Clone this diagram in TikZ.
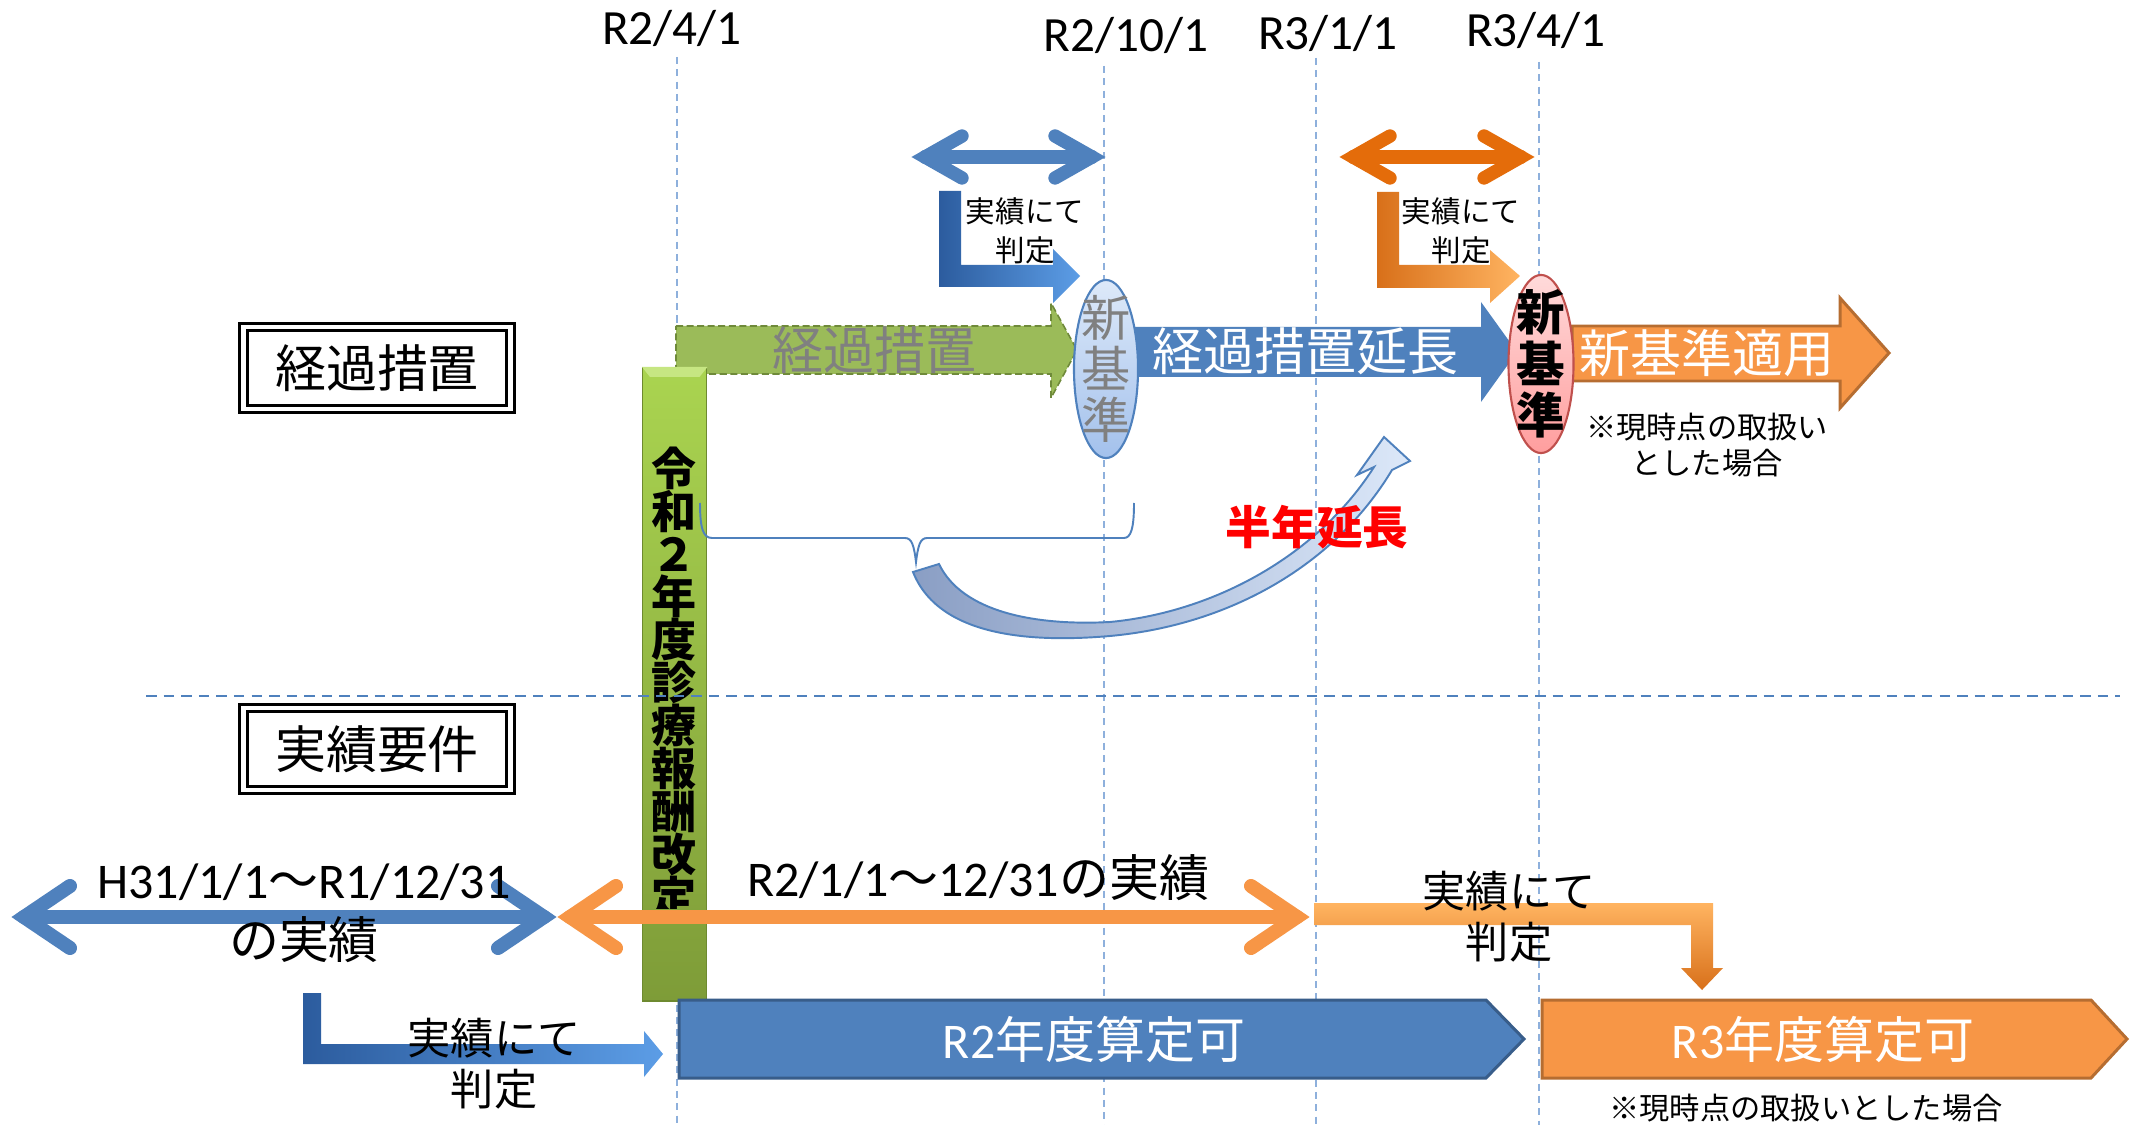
\documentclass[tikz,border=0pt]{standalone}
\usepackage{fontspec}
\newfontfamily\jp{Noto Sans CJK JP}
\newfontfamily\lat{Carlito}
\usetikzlibrary{shapes.geometric,calc}
\definecolor{cblue}{HTML}{4F81BD}
\definecolor{cbluedk}{HTML}{385D8A}
\definecolor{corange}{HTML}{F79646}
\definecolor{corangedk}{HTML}{B66D31}
\definecolor{cdorange}{HTML}{E46C0A}
\definecolor{cgreen}{HTML}{9BBB59}
\definecolor{cgreendk}{HTML}{6F8A3A}
\definecolor{cgray}{HTML}{808080}
\definecolor{cvline}{HTML}{8EB0DC}
\definecolor{cred}{HTML}{FF0000}
\definecolor{cbartop}{HTML}{AAD450}
\definecolor{cbarbot}{HTML}{7E9C38}
\definecolor{cbarbd}{HTML}{6E8A30}
\definecolor{cbarhi}{HTML}{C6E682}
\definecolor{cellbt}{HTML}{DDE9F9}
\definecolor{cellbb}{HTML}{A3C1EC}
\definecolor{cellrt}{HTML}{FFDADA}
\definecolor{cellrb}{HTML}{FF9E9E}
\definecolor{cellrd}{HTML}{C0504D}
\definecolor{cbentbl}{HTML}{2C5C9E}
\definecolor{cbentbr}{HTML}{5C9DE6}
\definecolor{cbentol}{HTML}{D8701A}
\definecolor{cbentor}{HTML}{FFB461}
\definecolor{ccurvl}{HTML}{8A9EC4}
\definecolor{ccurvr}{HTML}{DCE8F9}
\tikzset{
  vline/.style={draw=cvline, line width=0.45pt, dash pattern=on 2pt off 1.5pt},
  hline/.style={draw=cblue, line width=0.6pt, dash pattern=on 3pt off 2pt},
  datelbl/.style={anchor=base, inner sep=0pt, font={\lat\fontsize{14}{16}\selectfont}},
  secbox/.style={draw=black, line width=0.75pt, double=white, double distance=1.4pt,
     minimum width=2.67cm, minimum height=0.82cm, inner sep=0pt,
     font={\jp\fontsize{14.5}{16}\selectfont}},
  bandtxt/.style={inner sep=0pt, font={\jp\fontsize{14.5}{16}\selectfont}},
  bigtxt/.style={inner sep=0pt, align=center, font={\jp\fontsize{14.2}{17}\selectfont}},
  midtxt/.style={inner sep=0pt, align=center, font={\jp\fontsize{12.3}{14.5}\selectfont}},
  smalltxt/.style={inner sep=0pt, align=center, font={\jp\fontsize{8.4}{11}\selectfont}},
  notetxt/.style={inner sep=0pt, align=center, font={\jp\fontsize{8.6}{10.2}\selectfont}},
  stacktxt/.style={inner sep=0pt, align=center, font={\jp\fontsize{14}{14.4}\selectfont\lineskiplimit=-5pt}},
  dblarrow/.style={line width=3.8pt, line cap=round, line join=miter},
  dblarrowb/.style={line width=4pt, line cap=round, line join=miter},
  ellnode/.style={ellipse, minimum width=0.64cm, minimum height=1.78cm, inner sep=0pt, line width=0.6pt},
}
\begin{document}
\begin{tikzpicture}[x=0.01cm,y=-0.01cm]
\useasboundingbox[fill=white] (0,0) rectangle (2140,1125);
% vertical guides
\foreach \n/\x/\y in {a/677/57,b/1104/66,c/1316/58,d/1539/62}{
  \coordinate (vt\n) at (\x,\y); \coordinate (vb\n) at (\x,1125);
  \draw[vline] (vt\n) -- (vb\n);}
% dates
\node[datelbl] (dA) at (672,45) {R2/4/1};
\node[datelbl] (dB) at (1126,52) {R2/10/1};
\node[datelbl] (dC) at (1328,50) {R3/1/1};
\node[datelbl] (dD) at (1536,47) {R3/4/1};
% section labels
\node[secbox] (secA) at (377,368) {経過措置};
\node[secbox] (secB) at (377,749) {実績要件};
% green dashed arrow
\draw[fill=cgreen, draw=cgreendk, line width=0.45pt, dash pattern=on 2pt off 1pt]
  (676,326) -- (1051,326) -- (1051,303) -- (1077,350) -- (1051,398) -- (1051,374) -- (676,374) -- cycle;
\node[bandtxt, text=cgray] (tKeika) at (874,350) {経過措置};
% blue arrow
\fill[cblue] (1134,327) -- (1481,327) -- (1481,302) -- (1517,352) -- (1481,402) -- (1481,377) -- (1134,377) -- cycle;
\node[bandtxt, text=white] (tEnchou) at (1305,351) {経過措置延長};
% orange arrow
\draw[fill=corange, draw=corangedk, line width=0.85pt, line join=miter]
  (1572,326) -- (1840,326) -- (1840,298) -- (1889,353) -- (1840,408) -- (1840,381) -- (1572,381) -- cycle;
\node[bandtxt, text=white] (tTekiyou) at (1707,353) {新基準適用};
% ellipses
\node[ellnode, draw=cblue, top color=cellbt, bottom color=cellbb] (ellA) at (1106,369) {};
\node[stacktxt, text=cgray] (ellAt) at (ellA.center) {新\\基\\準};
\node[ellnode, minimum width=0.65cm, draw=cellrd, top color=cellrt, bottom color=cellrb] (ellB) at (1541,364) {};
\node[stacktxt, font={\jp\bfseries\fontsize{13.8}{14.6}\selectfont\lineskiplimit=-5pt}] (ellBt) at (ellB.center) {新\\基\\準};
\node[notetxt] (note1) at (1707,445) {※現時点の取扱い\\とした場合};
% top double arrows
\coordinate (tbL) at (925,157); \coordinate (tbR) at (1092,157);
\draw[dblarrow, cblue] (tbL) -- (tbR);
\draw[dblarrow, cblue] ($(tbL)+(37,-21)$) -- (tbL) -- ($(tbL)+(37,21)$);
\draw[dblarrow, cblue] ($(tbR)+(-37,-21)$) -- (tbR) -- ($(tbR)+(-37,21)$);
\coordinate (toL) at (1353,157); \coordinate (toR) at (1521,157);
\draw[dblarrow, cdorange] (toL) -- (toR);
\draw[dblarrow, cdorange] ($(toL)+(37,-21)$) -- (toL) -- ($(toL)+(37,21)$);
\draw[dblarrow, cdorange] ($(toR)+(-37,-21)$) -- (toR) -- ($(toR)+(-37,21)$);
% top bent arrows
\shade[left color=cbentbl, right color=cbentbr]
  (939,191) -- (961,191) -- (961,265) -- (1053,265) -- (1053,249) -- (1080,276) -- (1053,303) -- (1053,287) -- (939,287) -- cycle;
\node[smalltxt] (tJB1) at (1025,231) {実績にて\\判定};
\shade[left color=cbentol, right color=cbentor]
  (1377,192) -- (1399,192) -- (1399,265) -- (1490,265) -- (1490,250) -- (1520,276) -- (1490,303) -- (1490,288) -- (1377,288) -- cycle;
\node[smalltxt] (tJO1) at (1461,231) {実績にて\\判定};
% green revision bar
\node[anchor=north west, draw=cbarbd, line width=0.4pt, top color=cbartop, bottom color=cbarbot,
      minimum width=0.64cm, minimum height=6.33cm, inner sep=0pt] (bar) at (642,367) {};
\fill[cbarhi] (bar.north west) -- (bar.north east) -- ++(-8,10) -- ($(bar.north west)+(8,10)$) -- cycle;
% bracket and curved arrow
\draw[cblue, line width=0.55pt] (700,503) .. controls (700,528) and (703,538) .. (712,538) -- (905,538)
  .. controls (912,538) and (914,546) .. (916,562) .. controls (918,546) and (920,538) .. (927,538)
  -- (1124,538) .. controls (1131,538) and (1134,528) .. (1134,503);
\shade[left color=ccurvl, right color=ccurvr, draw=cblue, line width=0.55pt]
 (913,572) .. controls (940,640) and (1040,642) .. (1110,636)
 .. controls (1230,625) and (1335,565) .. (1392,470)
 -- (1410,461) -- (1384,437) -- (1357,475) -- (1374,467)
 .. controls (1318,555) and (1215,612) .. (1110,622)
 .. controls (1035,626) and (962,612) .. (939,564) -- cycle;
\node[inner sep=0pt, text=cred, font={\jp\bfseries\fontsize{13}{15}\selectfont}] (tHantoshi) at (1317,527) {半年延長};
% bar text
\begin{scope}
\clip (600,360) rectangle (760,908);
\node[anchor=north, inner sep=0pt, align=center, font={\jp\bfseries\fontsize{12.8}{12.2}\selectfont\lineskiplimit=-8pt}] (barT) at (674,446) {令\\和\\２\\年\\度\\診\\療\\報\\酬\\改\\定};
\end{scope}
% bottom pentagons
\draw[fill=cblue, draw=cbluedk, line width=0.85pt, line join=miter] (679,1000) -- (1486,1000) -- (1524,1039) -- (1486,1078) -- (679,1078) -- cycle;
\node[bigtxt, text=white] (tR2) at (1094,1040) {{\lat R2}年度算定可};
\draw[fill=corange, draw=corangedk, line width=0.85pt, line join=miter] (1542,1000) -- (2091,1000) -- (2127,1039) -- (2091,1078) -- (1542,1078) -- cycle;
\node[bigtxt, text=white] (tR3) at (1823,1040) {{\lat R3}年度算定可};
% bottom double arrows
\coordinate (bbL) at (24,917); \coordinate (bbR) at (544,917);
\draw[dblarrowb, cblue] (bbL) -- (bbR);
\draw[dblarrowb, cblue] ($(bbL)+(46,-31)$) -- (bbL) -- ($(bbL)+(46,31)$);
\draw[dblarrowb, cblue] ($(bbR)+(-46,-31)$) -- (bbR) -- ($(bbR)+(-46,31)$);
\coordinate (boL) at (570,917); \coordinate (boR) at (1297,917);
\draw[dblarrowb, corange] (boL) -- (boR);
\draw[dblarrowb, corange] ($(boL)+(46,-31)$) -- (boL) -- ($(boL)+(46,31)$);
\draw[dblarrowb, corange] ($(boR)+(-46,-31)$) -- (boR) -- ($(boR)+(-46,31)$);
\node[bigtxt] (tH31) at (304,913) {{\lat H31/1/1}～{\lat R1/12/31}\\の実績};
\node[bigtxt] (tR2jis) at (978,878) {{\lat R2/1/1}～{\lat 12/31}の実績};
% bottom bent arrows
\shade[top color=cbentor, bottom color=cbentol]
 (1314,903) -- (1713,903) -- (1713,968) -- (1723,968) -- (1702,990) -- (1681,968) -- (1691,968) -- (1691,925) -- (1314,925) -- cycle;
\node[midtxt] (tJO2) at (1509,917) {実績にて\\判定};
\shade[left color=cbentbl, right color=cbentbr]
 (303,993) -- (321,993) -- (321,1044) -- (644,1044) -- (644,1031) -- (663,1054) -- (644,1077) -- (644,1064) -- (303,1064) -- cycle;
\node[midtxt] (tJB2) at (494,1064) {実績にて\\判定};
% horizontal divider
\coordinate (hl) at (146,696); \coordinate (hr) at (2120,696);
\draw[hline] (hl) -- (hr);
\node[notetxt] (note2) at (1806,1108) {※現時点の取扱いとした場合};
\end{tikzpicture}
\end{document}
